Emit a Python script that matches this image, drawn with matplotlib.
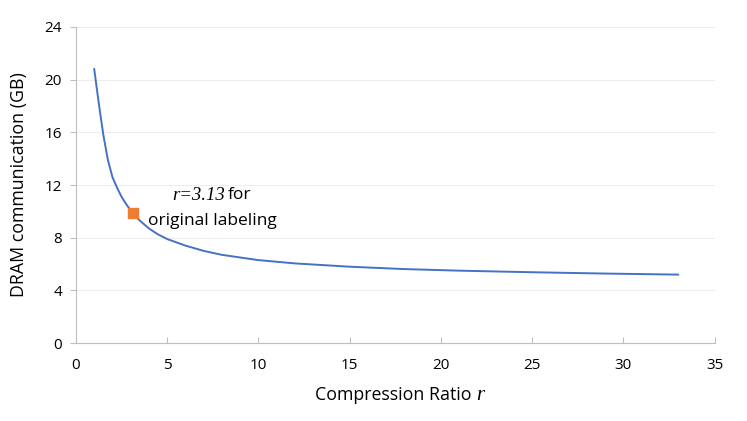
import numpy as np
import matplotlib.pyplot as plt

# values
ratio = [1, 1.25, 1.5, 1.75, 2, 2.25, 2.5, 2.8, 3.13, 3.5, 4, 4.5, 5, 6, 7, 8,
         10, 12, 15, 18, 21, 25, 29, 33]
dram_gb = [20.8, 18.2, 15.8, 13.9, 12.6, 11.8, 11.1, 10.45, 9.85, 9.3, 8.7, 8.25,
           7.9, 7.4, 7.0, 6.7, 6.3, 6.05, 5.8, 5.62, 5.5, 5.38, 5.28, 5.2]

orig_r = 3.13
orig_gb = 9.85

x_ticks = [0, 5, 10, 15, 20, 25, 30, 35]
y_ticks = [0, 4, 8, 12, 16, 20, 24]

plt.rcParams['font.family'] = ['Open Sans', 'DejaVu Sans']

fig = plt.figure(figsize=(7.47, 4.21), dpi=100)
ax = fig.add_axes([0.1017, 0.185, 0.855, 0.751])

ax.plot(ratio, dram_gb, color='#4472C4', lw=1.4, zorder=2)
ax.plot([orig_r], [orig_gb], marker='s', ms=7.5, color='#ED7D31', ls='none', zorder=3)

# annotation: italic serif "r=3.13" followed by "for"
ax.text(8.15, 11.2, 'r=3.13', family='Liberation Serif', style='italic',
        fontsize=13.5, ha='right', va='center')
ax.text(8.3, 11.25, 'for', fontsize=12.5, ha='left', va='center')
ax.text(7.45, 9.3, 'original labeling', fontsize=12.5, ha='center', va='center')

ax.set_xlim(0, 35)
ax.set_ylim(0, 24)
ax.set_xticks(x_ticks)
ax.set_yticks(y_ticks)
ax.tick_params(axis='both', labelsize=11, color='#BFBFBF', length=4)
ax.tick_params(axis='x', direction='in', pad=11)
ax.tick_params(axis='y', direction='out', pad=6)

ax.grid(axis='y', color='#EDEDED', lw=0.8)
ax.set_axisbelow(True)
for s in ['top', 'right']:
    ax.spines[s].set_visible(False)
for s in ['left', 'bottom']:
    ax.spines[s].set_color('#BFBFBF')

ax.set_ylabel('DRAM communication (GB)', fontsize=12.8)
ax.yaxis.set_label_coords(-0.075, 0.5)
ax.set_xlabel('Compression Ratio', fontsize=12.8)
ax.xaxis.set_label_coords(0.496, -0.135)
fig.text(0.637, 0.05, 'r', family='Liberation Serif', style='italic', fontsize=15)

fig.savefig('out.png', dpi=100)
